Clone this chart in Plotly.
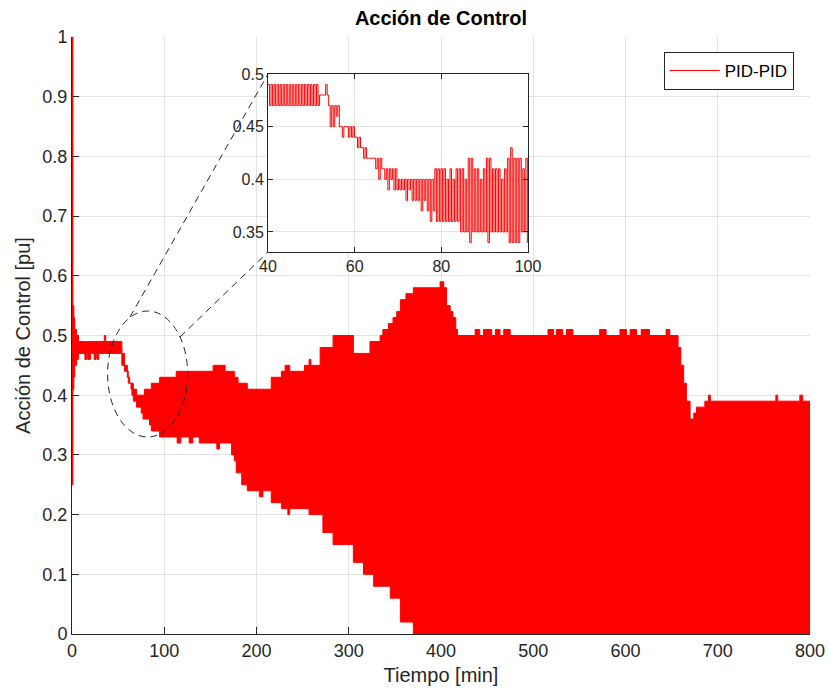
import plotly.graph_objects as go

# ---------------- data ----------------
# Envelope of the fast-oscillating control action over the whole run
t_env = [0, 1, 2, 3, 5, 7, 14, 16, 17, 20, 24, 26, 27, 29, 35, 36.5, 53, 54, 57, 60,
         61, 62.5, 64, 65, 66.5, 70, 75, 77, 78.5, 84, 86, 88, 95, 113, 114, 118, 127,
         131, 138, 153, 157, 160, 166, 173, 176, 178, 180, 184, 190, 203, 207, 216, 227,
         231, 234, 236, 252, 257, 259, 269, 272, 283, 305, 316, 323, 327, 334, 337, 343,
         345, 348, 352, 356, 362, 370, 377, 399, 403, 406, 410, 413, 416, 418, 437, 442,
         446, 455, 459, 464, 468, 475, 516, 522, 525, 532, 536, 543, 572, 579, 594, 601,
         605, 612, 617, 626, 644, 648, 656, 657, 660, 663, 666, 670, 674, 677, 686, 690,
         692, 763, 765, 789, 792, 800]
u_hi = [1.00, 0.55, 0.53, 0.51, 0.50, 0.49, 0.49, 0.49, 0.49, 0.49, 0.49, 0.49, 0.49, 0.49,
        0.50, 0.49, 0.49, 0.47, 0.45, 0.44, 0.43, 0.42, 0.42, 0.42, 0.41, 0.40, 0.40, 0.40,
        0.41, 0.41, 0.42, 0.42, 0.43, 0.44, 0.44, 0.44, 0.44, 0.44, 0.44, 0.45, 0.45, 0.45,
        0.44, 0.44, 0.43, 0.43, 0.42, 0.42, 0.41, 0.41, 0.41, 0.43, 0.44, 0.45, 0.45, 0.44,
        0.45, 0.46, 0.45, 0.48, 0.48, 0.50, 0.47, 0.47, 0.49, 0.49, 0.50, 0.51, 0.52, 0.52,
        0.53, 0.54, 0.56, 0.57, 0.58, 0.58, 0.59, 0.58, 0.55, 0.54, 0.53, 0.51, 0.50, 0.51,
        0.50, 0.51, 0.50, 0.51, 0.50, 0.51, 0.50, 0.51, 0.50, 0.51, 0.50, 0.51, 0.50, 0.51,
        0.50, 0.51, 0.50, 0.51, 0.50, 0.51, 0.50, 0.51, 0.50, 0.50, 0.48, 0.45, 0.42, 0.39,
        0.36, 0.37, 0.38, 0.39, 0.40, 0.39, 0.40, 0.39, 0.40, 0.39, 0.39]
u_lo = [0.25, 0.41, 0.43, 0.45, 0.46, 0.47, 0.46, 0.47, 0.46, 0.47, 0.46, 0.47, 0.46, 0.47,
        0.47, 0.47, 0.48, 0.45, 0.44, 0.43, 0.42, 0.42, 0.41, 0.40, 0.39, 0.38, 0.37, 0.36,
        0.36, 0.35, 0.34, 0.34, 0.33, 0.33, 0.32, 0.33, 0.32, 0.33, 0.32, 0.32, 0.31, 0.32,
        0.32, 0.30, 0.29, 0.27, 0.27, 0.25, 0.24, 0.23, 0.24, 0.22, 0.21, 0.21, 0.20, 0.21,
        0.21, 0.20, 0.20, 0.20, 0.17, 0.15, 0.12, 0.10, 0.10, 0.08, 0.08, 0.08, 0.08, 0.06,
        0.06, 0.06, 0.02, 0.02, 0.00, 0.00, 0.00, 0.00, 0.00, 0.00, 0.00, 0.00, 0.00, 0.00,
        0.00, 0.00, 0.00, 0.00, 0.00, 0.00, 0.00, 0.00, 0.00, 0.00, 0.00, 0.00, 0.00, 0.00,
        0.00, 0.00, 0.00, 0.00, 0.00, 0.00, 0.00, 0.00, 0.00, 0.00, 0.00, 0.00, 0.00, 0.00,
        0.00, 0.00, 0.00, 0.00, 0.00, 0.00, 0.00, 0.00, 0.00, 0.00, 0.00]

# Zoomed detail (40-100 min): start time of each oscillation cycle, peak and trough (hundredths of pu)
t_cyc = [40.0, 40.7, 41.4, 42.1, 42.8, 43.5, 44.2, 44.9, 45.6, 46.3, 47.0, 47.7, 48.4, 49.1,
         49.8, 50.5, 51.2, 51.9, 52.6, 53.3, 54.0, 54.7, 55.4, 56.1, 56.8, 57.5, 58.2, 58.9,
         59.6, 60.3, 61.0, 61.7, 62.4, 63.1, 63.8, 64.5, 65.2, 65.9, 66.6, 67.3, 68.0, 68.7,
         69.4, 70.1, 70.8, 71.5, 72.2, 72.9, 73.6, 74.3, 75.0, 75.7, 76.4, 77.1, 77.8, 78.5,
         79.2, 79.9, 80.6, 81.3, 82.0, 82.7, 83.4, 84.1, 84.8, 85.5, 86.2, 86.9, 87.6, 88.3,
         89.0, 89.7, 90.4, 91.1, 91.8, 92.5, 93.2, 93.9, 94.6, 95.3, 96.0, 96.7, 97.4, 98.1,
         98.8, 99.5]
hi_cyc = [49, 49, 49, 49, 49, 49, 49, 49, 49, 49, 49, 49, 49, 49, 49, 49, 49,
          48, 48, 49,
          47, 47, 47, 47,
          45, 45, 45, 45, 45,
          44, 44, 43, 43, 42, 42, 42, 42, 42,
          41, 41, 41, 41, 41,
          40, 40, 40, 40, 40, 40, 40, 40, 40, 40, 40, 40,
          41, 41, 41, 41, 40, 41, 40, 41, 41, 41, 40, 42, 42, 41, 41, 40, 41, 42, 42, 41,
          41, 41, 40, 41, 42, 43, 42, 42, 42, 41, 42]
lo_cyc = [47, 47, 47, 47, 47, 47, 47, 47, 47, 47, 47, 47, 47, 47, 47, 47, 47,
          48, 48, 48,
          45, 45, 46, 45,
          44, 45, 44, 44, 44,
          43, 43, 42, 42, 42, 42, 41, 40, 41,
          40, 39, 40, 39, 39,
          39, 39, 38, 39, 38, 38, 38, 37, 38, 37, 36, 37,
          36, 36, 36, 36, 36, 36, 36, 36, 35, 35, 35, 34, 35, 35, 35, 35, 35, 34, 35, 35,
          35, 35, 35, 35, 34, 34, 34, 34, 35, 35, 34]

x_ticks = [0, 100, 200, 300, 400, 500, 600, 700, 800]
y_ticks = [0, 0.1, 0.2, 0.3, 0.4, 0.5, 0.6, 0.7, 0.8, 0.9, 1]
inset_x_ticks = [40, 60, 80, 100]
inset_y_ticks = [0.35, 0.4, 0.45, 0.5]
series_name = "PID-PID"

# ---------------- layout geometry ----------------
X_RANGE = [0, 800]
Y_RANGE = [0, 1]
INSET_DX = [0.2656, 0.6179]
INSET_DY = [0.640, 0.938]
INSET_XR = [40, 100]
INSET_YR = [0.331, 0.5]
RED = "#ff0000"
AX = "#262626"
GRID = "#e3e3e3"
FONT = "Liberation Sans, Arial, Helvetica, sans-serif"

# build the zoomed step series: peak on first half of each cycle, trough on second half
xs, ys = [], []
n = len(t_cyc)
for i in range(n):
    t0 = t_cyc[i]
    t1 = t_cyc[i + 1] if i + 1 < n else t0 + (t0 - t_cyc[i - 1])
    xs += [t0, (t0 + t1) / 2]
    ys += [hi_cyc[i] / 100, lo_cyc[i] / 100]
xs.append(t1)
ys.append(lo_cyc[-1] / 100)

fig = go.Figure()
fig.add_trace(go.Scatter(x=t_env, y=u_lo, mode="lines", line=dict(color=RED, width=1, shape="hv"),
                         showlegend=False, hoverinfo="skip", xaxis="x", yaxis="y"))
fig.add_trace(go.Scatter(x=t_env, y=u_hi, mode="lines", line=dict(color=RED, width=1, shape="hv"),
                         fill="tonexty", fillcolor=RED, showlegend=False, hoverinfo="skip",
                         xaxis="x", yaxis="y"))
fig.add_trace(go.Scatter(x=xs, y=ys, mode="lines", line=dict(color=RED, width=1, shape="hv"),
                         name=series_name, showlegend=True, xaxis="x2", yaxis="y2"))

# inset corners in main-axis data coordinates
ix0 = X_RANGE[0] + INSET_DX[0] * (X_RANGE[1] - X_RANGE[0])
iy_top = Y_RANGE[0] + INSET_DY[1] * (Y_RANGE[1] - Y_RANGE[0])
iy_bot = Y_RANGE[0] + INSET_DY[0] * (Y_RANGE[1] - Y_RANGE[0])

dash = "7px,5px"
shapes = [
    dict(type="circle", xref="x", yref="y", x0=38.6, x1=125.4, y0=0.33, y1=0.541,
         line=dict(color=AX, width=1, dash=dash), layer="above"),
    dict(type="line", xref="x", yref="y", x0=62.9, y0=0.531, x1=ix0, y1=iy_top,
         line=dict(color=AX, width=1, dash=dash), layer="above"),
    dict(type="line", xref="x", yref="y", x0=117.1, y0=0.4975, x1=ix0, y1=iy_bot,
         line=dict(color=AX, width=1, dash=dash), layer="above"),
]

axis_common = dict(ticks="inside", ticklen=7, tickcolor=AX, tickwidth=1, showline=True,
                   linecolor=AX, linewidth=1, showgrid=True, gridcolor=GRID, gridwidth=1,
                   zeroline=False, automargin=False,
                   tickfont=dict(size=18, color=AX, family=FONT))
inset_common = {**axis_common, "tickfont": dict(size=16, color=AX, family=FONT), "ticklen": 5}

fig.update_layout(
    width=829, height=693,
    margin=dict(l=72, r=19, t=37, b=59, autoexpand=False),
    paper_bgcolor="white", plot_bgcolor="white",
    font=dict(family=FONT, size=18, color=AX),
    title=dict(text="<b>Acción de Control</b>", x=0.5, xref="paper", xanchor="center",
               y=1 - 18 / 693, yref="container", yanchor="middle",
               font=dict(size=20, color="black", family=FONT)),
    showlegend=True,
    legend=dict(x=0.978, xanchor="right", y=0.975, yanchor="top", bordercolor=AX, borderwidth=1,
                bgcolor="white", font=dict(size=17, color="black", family=FONT), itemwidth=50,
                tracegroupgap=0),
    xaxis=dict(domain=[0, 1], range=X_RANGE, tickvals=x_ticks, anchor="y", layer="below traces",
               title=dict(text="Tiempo [min]", font=dict(size=20, color=AX), standoff=8),
               **axis_common),
    yaxis=dict(domain=[0, 1], range=Y_RANGE, tickvals=y_ticks, anchor="x", layer="below traces",
               title=dict(text="Acción de Control [pu]", font=dict(size=20, color=AX), standoff=6),
               **axis_common),
    xaxis2=dict(domain=INSET_DX, range=INSET_XR, tickvals=inset_x_ticks, anchor="y2",
                mirror="ticks", **inset_common),
    yaxis2=dict(domain=INSET_DY, range=INSET_YR, tickvals=inset_y_ticks, anchor="x2",
                mirror="ticks", **inset_common),
    shapes=shapes,
)

fig.write_html("out.html")
